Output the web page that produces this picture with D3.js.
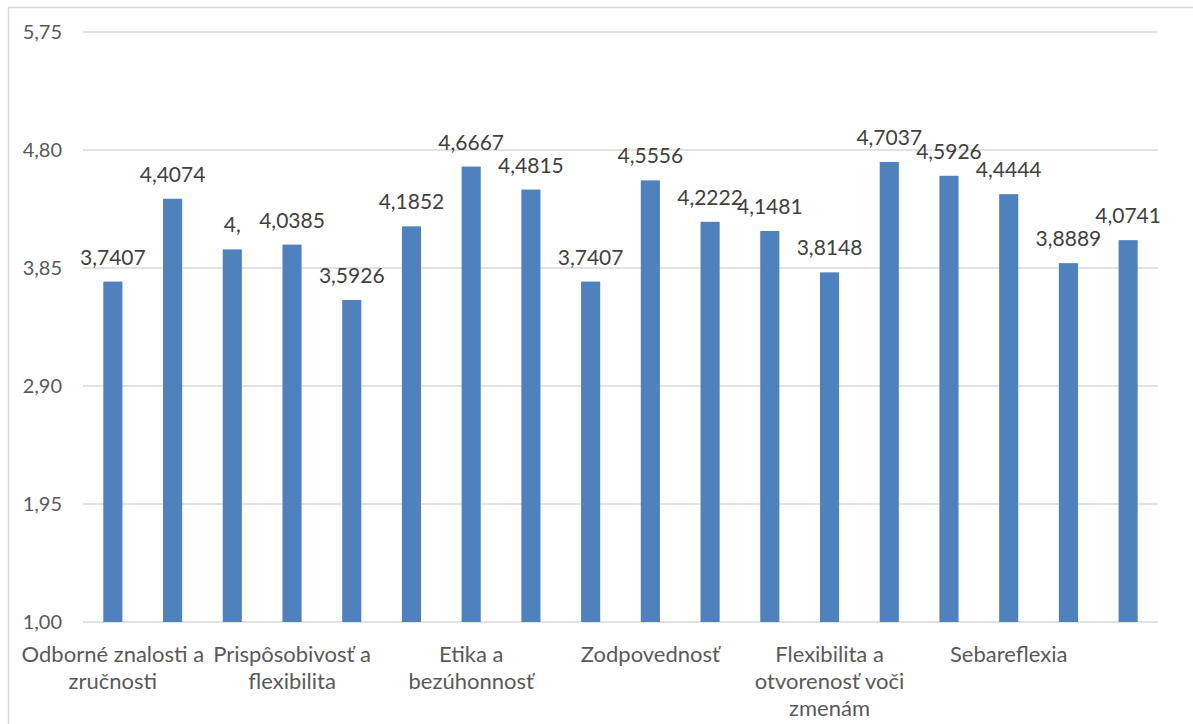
<!DOCTYPE html>
<html><head><meta charset="utf-8">
<script src="https://cdn.jsdelivr.net/npm/d3@7"></script>
<style>
html,body{margin:0;padding:0;background:#fff;}
svg{display:block;font-family:Lato,"Open Sans",sans-serif;}
</style></head>
<body><svg id="c" width="1193" height="724"></svg>
<script>
// 18 bars; category names shown every third tick (as in the original)
const categories = [
  "Odborné znalosti a\nzručnosti", "", "",
  "Prispôsobivosť a\nflexibilita", "", "",
  "Etika a\nbezúhonnosť", "", "",
  "Zodpovednosť", "", "",
  "Flexibilita a\notvorenosť voči\nzmenám", "", "",
  "Sebareflexia", "", ""
];
const values = [3.7407, 4.4074, 4.0, 4.0385, 3.5926, 4.1852,
                4.6667, 4.4815, 3.7407, 4.5556, 4.2222, 4.1481,
                3.8148, 4.7037, 4.5926, 4.4444, 3.8889, 4.0741];
const valueLabels = ["3,7407","4,4074","4,","4,0385","3,5926","4,1852",
                     "4,6667","4,4815","3,7407","4,5556","4,2222","4,1481",
                     "3,8148","4,7037","4,5926","4,4444","3,8889","4,0741"];
const yTicks = [1.00, 1.95, 2.90, 3.85, 4.80, 5.75];

const svg = d3.select("#c");
const mLeft = 83, mRight = 1158, mTop = 32, mBottom = 622;

svg.append("rect").attr("x", 8.5).attr("y", 7.5).attr("width", 1300).attr("height", 800)
  .attr("fill", "none").attr("stroke", "#D9D9D9").attr("stroke-width", 1.5);

const x = d3.scaleBand().domain(d3.range(values.length)).range([mLeft, mRight])
  .paddingInner(0.68).paddingOuter(0.34);
const y = d3.scaleLinear().domain([1.00, 5.75]).range([mBottom, mTop]);

const fmt = v => v.toFixed(2).replace(".", ",");

// gridlines
svg.append("g").selectAll("line").data(yTicks).join("line")
  .attr("x1", mLeft).attr("x2", mRight)
  .attr("y1", d => y(d)).attr("y2", d => y(d))
  .attr("stroke", "#D9D9D9").attr("stroke-width", 1.5);

// y axis labels
const yAxis = d3.axisLeft(y).tickValues(yTicks).tickFormat(fmt).tickSize(0).tickPadding(0);
const gy = svg.append("g").attr("transform", "translate(62,0)").call(yAxis);
gy.select(".domain").remove();
gy.selectAll("text").attr("fill", "#595959").attr("font-size", 20).attr("font-family", "Lato");

// bars
svg.append("g").selectAll("rect").data(values).join("rect")
  .attr("x", (d, i) => x(i)).attr("width", x.bandwidth())
  .attr("y", d => y(d)).attr("height", d => y(1.00) - y(d))
  .attr("fill", "#4F81BD");

// value labels
svg.append("g").selectAll("text").data(values).join("text")
  .attr("x", (d, i) => x(i) + x.bandwidth() / 2)
  .attr("y", d => y(d) - 17)
  .attr("text-anchor", "middle").attr("font-size", 21).attr("fill", "#404040")
  .text((d, i) => valueLabels[i]);

// x axis labels
const xAxis = d3.axisBottom(x).tickValues(d3.range(values.length).filter(i => categories[i] !== ""))
  .tickSize(0).tickFormat(() => "");
const gx = svg.append("g").attr("transform", `translate(0,${mBottom})`).call(xAxis);
gx.select(".domain").remove();
gx.selectAll(".tick").each(function(i) {
  const lines = categories[i].split("\n");
  const t = d3.select(this).append("text").attr("text-anchor", "middle")
    .attr("fill", "#595959").attr("font-size", 22).attr("font-family", "Lato");
  lines.forEach((ln, k) => t.append("tspan").attr("x", 0).attr("y", 40 + k * 27).text(ln));
});
</script></body></html>
